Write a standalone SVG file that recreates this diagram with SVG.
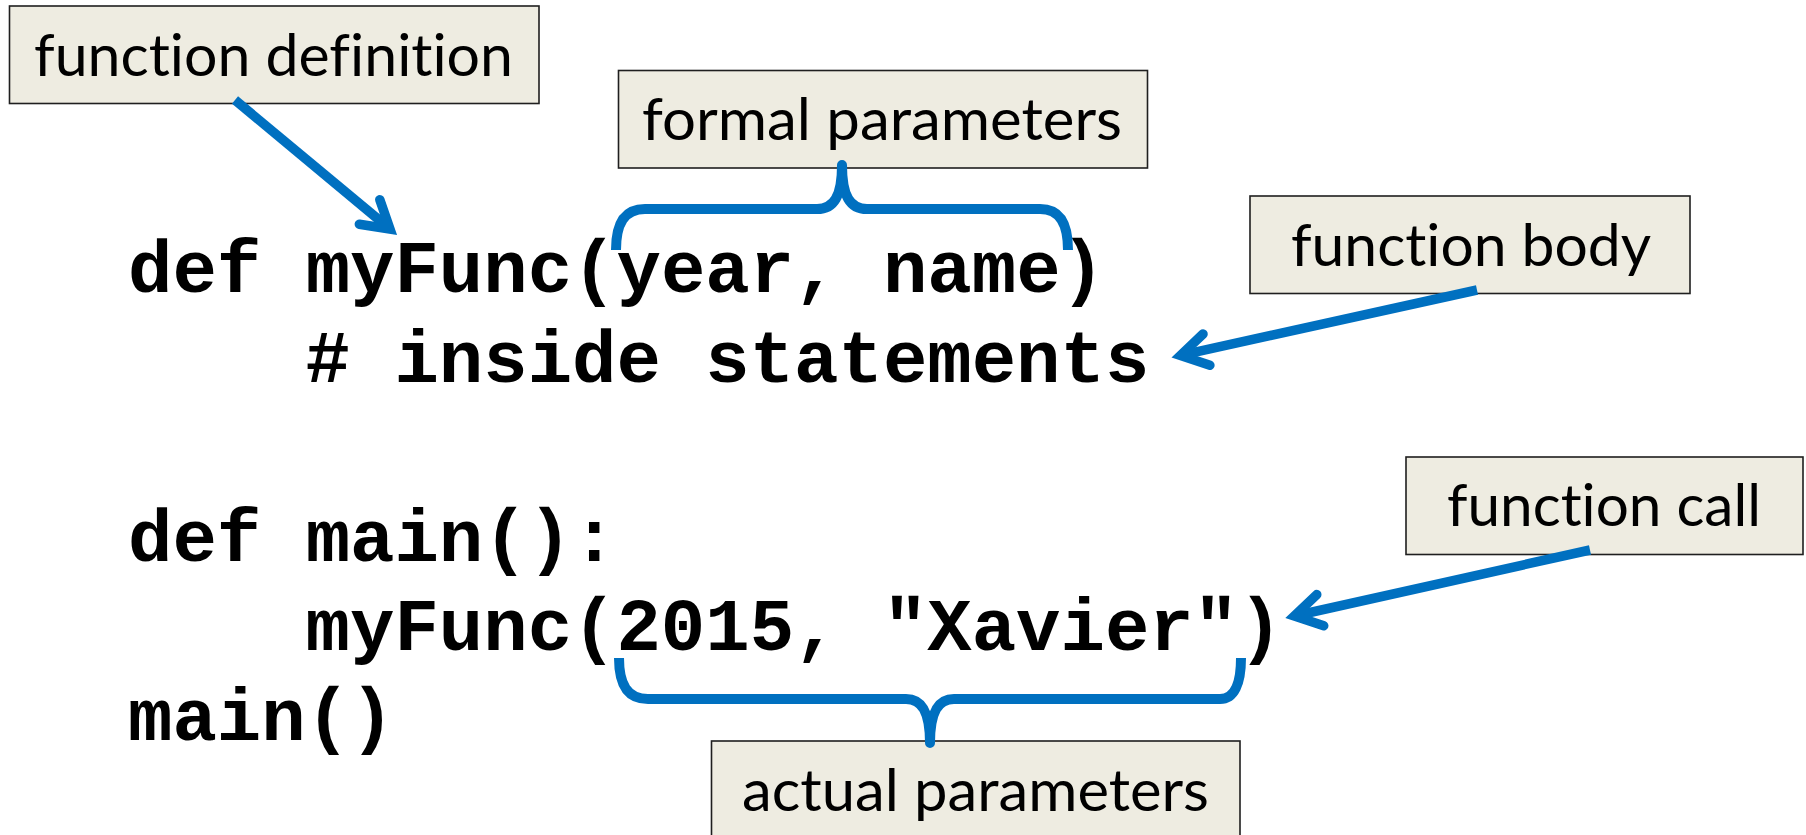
<svg xmlns="http://www.w3.org/2000/svg" width="1806" height="835" viewBox="0 0 1806 835">
  <style>
    .box { fill: #EEECE1; stroke: #1f1f1f; stroke-width: 1.6; }
    .label { font-family: Lato, "Noto Sans", "Liberation Sans", sans-serif; font-size: 58px; fill: #000; font-variant-ligatures: none; font-feature-settings: "liga" 0, "dlig" 0, "clig" 0; }
    .code { font-family: "Liberation Mono", "DejaVu Sans Mono", monospace; font-weight: bold; font-size: 74px; fill: #000; }
    .arrow { fill: none; stroke: #0070C0; stroke-width: 9.5; stroke-linecap: butt; }
    .brace { fill: none; stroke: #0070C0; stroke-width: 10; stroke-linecap: butt; stroke-linejoin: round; }
  </style>
  <defs>
    <marker id="chevron" markerUnits="userSpaceOnUse" viewBox="-40 -30 60 60" markerWidth="60" markerHeight="60" refX="0" refY="0" orient="auto" overflow="visible">
      <path d="M-26.6,-16 L0,0 L-26.6,16" fill="none" stroke="#0070C0" stroke-width="9.5" stroke-linecap="round" stroke-linejoin="miter" stroke-miterlimit="10"/>
    </marker>
  </defs>

  <rect width="1806" height="835" fill="#ffffff"/>

  <!-- source code -->
  <g id="code">
    <text class="code" x="128" y="292">def myFunc(year, name)</text>
    <text class="code" x="305.6" y="381.5"># inside statements</text>
    <text class="code" x="128" y="560.5">def main():</text>
    <text class="code" x="305.6" y="650">myFunc(2015, "Xavier")</text>
    <text class="code" x="128" y="739.5">main()</text>
  </g>

  <!-- callout boxes -->
  <g id="function-definition">
    <rect class="box" x="9.5" y="6" width="529.5" height="97.5"/>
    <text class="label" x="34" y="76" textLength="479" lengthAdjust="spacingAndGlyphs">function definition</text>
  </g>
  <g id="formal-parameters">
    <rect class="box" x="618.5" y="70.5" width="529" height="97.5"/>
    <text class="label" x="642" y="140" textLength="480" lengthAdjust="spacingAndGlyphs">formal parameters</text>
  </g>
  <g id="function-body">
    <rect class="box" x="1250" y="196" width="440" height="97.5"/>
    <text class="label" x="1291" y="266" textLength="360" lengthAdjust="spacingAndGlyphs">function body</text>
  </g>
  <g id="function-call">
    <rect class="box" x="1406" y="457" width="397" height="97.5"/>
    <text class="label" x="1447" y="526" textLength="314" lengthAdjust="spacingAndGlyphs">function call</text>
  </g>
  <g id="actual-parameters">
    <rect class="box" x="711.5" y="741" width="528.5" height="97.5"/>
    <text class="label" x="742" y="811" textLength="467" lengthAdjust="spacingAndGlyphs">actual parameters</text>
  </g>

  <!-- connectors: arrows and braces -->
  <g id="connectors">
    <line class="arrow" x1="235" y1="100" x2="390" y2="229" marker-end="url(#chevron)"/>
    <line class="arrow" x1="1477" y1="290" x2="1180.5" y2="355.4" marker-end="url(#chevron)"/>
    <line class="arrow" x1="1590" y1="550" x2="1294.3" y2="616" marker-end="url(#chevron)"/>
    <path class="brace" d="M616,250 C616,224 624,209 645,209 L817,209 C834,209 842,196 842,165 C842,196 850,209 867,209 L1040,209 C1060,209 1068,224 1068,250"/>
    <path class="brace" d="M619,658 C619,684 627,699 648,699 L906,699 C922,699 930,712 930,743 C930,712 938,699 954,699 L1220,699 C1234,699 1241,684 1241,658"/>
  </g>
</svg>
